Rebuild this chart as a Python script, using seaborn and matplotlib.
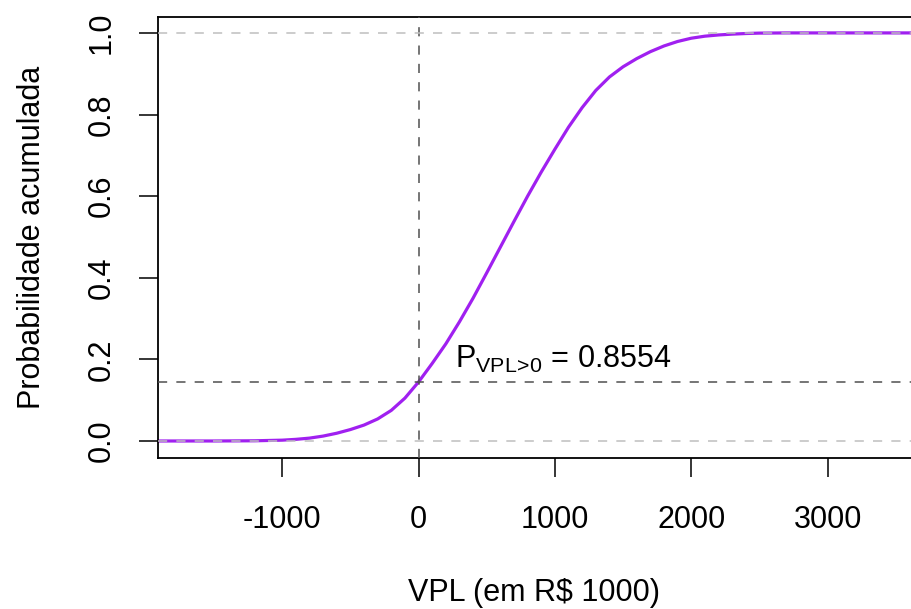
import pandas as pd
import matplotlib
matplotlib.use("Agg")
import matplotlib.pyplot as plt
import seaborn as sns

# ==============================
# DATA
# ==============================

vpl = [-1911, -1500, -1200, -1000, -900, -800, -700, -600, -500, -400, -300,
       -200, -100, 0, 100, 200, 300, 400, 500, 600, 700, 800, 900, 1000,
       1100, 1200, 1300, 1400, 1500, 1600, 1700, 1800, 1900, 2000, 2100,
       2200, 2300, 2400, 2500, 2700, 3612]
prob = [0.0, 0.0, 0.0005, 0.002, 0.004, 0.007, 0.012, 0.019, 0.028, 0.039,
        0.054, 0.075, 0.105, 0.1446, 0.19, 0.238, 0.292, 0.350, 0.412, 0.475,
        0.538, 0.600, 0.659, 0.715, 0.769, 0.817, 0.859, 0.892, 0.917, 0.937,
        0.954, 0.968, 0.979, 0.987, 0.992, 0.995, 0.997, 0.9985, 0.9995, 1.0,
        1.0]

p_neg = 0.1446
p_pos_label = "0.8554"
x_ticks = [-1000, 0, 1000, 2000, 3000]
y_ticks = [0.0, 0.2, 0.4, 0.6, 0.8, 1.0]

df = pd.DataFrame({"vpl": vpl, "prob": prob})

# ==============================
# STYLE
# ==============================

sns.set_style("ticks")
plt.rcParams["font.family"] = ["Liberation Sans", "DejaVu Sans"]
plt.rcParams["mathtext.fontset"] = "custom"
plt.rcParams["mathtext.rm"] = "Liberation Sans"
plt.rcParams["mathtext.it"] = "Liberation Sans"
for key in ["text.color", "axes.labelcolor", "xtick.color", "ytick.color"]:
    plt.rcParams[key] = "black"

fig = plt.figure(figsize=(9.11, 6.09), dpi=100)
ax = fig.add_axes([158 / 911, (609 - 458) / 609, 1 - 158 / 911, (458 - 17) / 609])

sns.lineplot(data=df, x="vpl", y="prob", ax=ax, color="#A020F0",
             linewidth=2.3, estimator=None, sort=False, zorder=2)

# reference lines
ax.axvline(0, color="#505050", lw=1.1, dashes=(6, 6), zorder=3)
ax.axhline(p_neg, color="#505050", lw=1.1, dashes=(6, 6), zorder=3)
ax.axhline(0, color="#BEBEBE", lw=1.1, dashes=(6, 6), zorder=3)
ax.axhline(1, color="#BEBEBE", lw=1.1, dashes=(6, 6), zorder=3)

ax.text(270, 0.179, r"P$_{\mathregular{VPL\!>\!0}}$ = " + p_pos_label,
        fontsize=22, ha="left", va="baseline")

ax.set_xlim(-1911, 3612)
ax.set_ylim(-0.0417, 1.039)
ax.set_xticks(x_ticks)
ax.set_xticklabels([str(t) for t in x_ticks])
ax.set_yticks(y_ticks)
ax.set_yticklabels([f"{t:.1f}" for t in y_ticks], rotation=90, va="center")

ax.tick_params(axis="both", length=14, width=1.1, labelsize=22)
ax.tick_params(axis="x", pad=20)
ax.tick_params(axis="y", pad=16)

ax.set_xlabel("VPL (em R$ 1000)", fontsize=22, labelpad=31)
ax.set_ylabel("Probabilidade acumulada", fontsize=22, labelpad=28)

for side in ["left", "top", "bottom"]:
    ax.spines[side].set_linewidth(1.3)
    ax.spines[side].set_color("black")
ax.spines["right"].set_visible(False)

fig.savefig("out.png", dpi=100)
